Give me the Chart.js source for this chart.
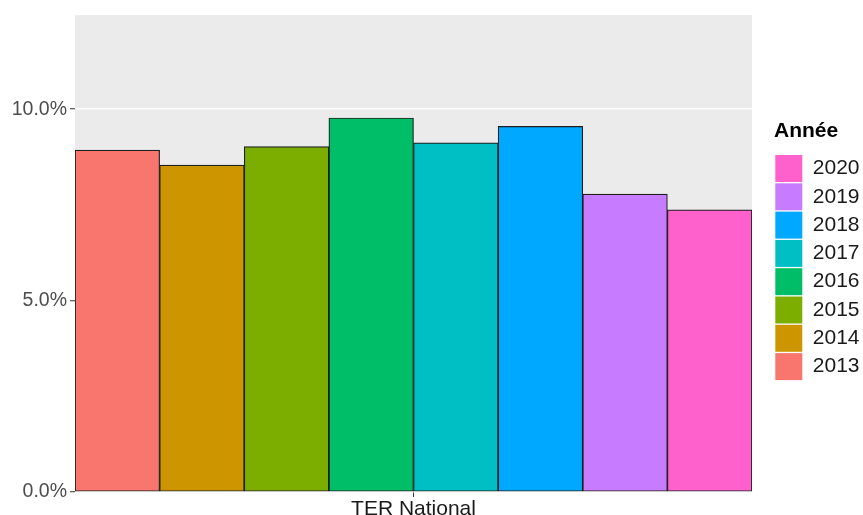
<!DOCTYPE html>
<html>
<head>
<meta charset="utf-8">
<script src="https://cdn.jsdelivr.net/npm/chart.js@4"></script>
<style>
  html, body { margin: 0; padding: 0; background: #fff; }
  canvas { display: block; }
</style>
</head>
<body>
<canvas id="chart" width="863" height="515"></canvas>
<script>
// data (percent)
const categories = ['TER National'];
const years = ['2013', '2014', '2015', '2016', '2017', '2018', '2019', '2020'];
const values = [8.93, 8.54, 9.02, 9.77, 9.12, 9.55, 7.78, 7.37];
const yTicks = [0, 5, 10];

// ggplot hue palette
const colors = ['#F8766D', '#CD9600', '#7CAE00', '#00BE67', '#00BFC4', '#00A9FF', '#C77CFF', '#FF61CC'];

const FONT = "'Liberation Sans', Arial, sans-serif";

// grey panel behind the plot
const panelBg = {
  id: 'panelBg',
  beforeDraw(chart) {
    const { ctx, chartArea: a } = chart;
    ctx.save();
    ctx.fillStyle = '#EBEBEB';
    ctx.fillRect(a.left, a.top, a.right - a.left, a.bottom - a.top);
    ctx.restore();
  }
};

const ctx = document.getElementById('chart').getContext('2d');

new Chart(ctx, {
  type: 'bar',
  data: {
    labels: categories,
    datasets: years.map((yr, i) => ({
      label: yr,
      data: [values[i]],
      backgroundColor: colors[i],
      borderColor: '#1F1F1F',
      borderWidth: 1.2,
      borderSkipped: false,
      barPercentage: 1,
      categoryPercentage: 1,
    }))
  },
  options: {
    responsive: false,
    animation: false,
    layout: { padding: { top: 15, right: 2, bottom: 0, left: 0 } },
    plugins: {
      tooltip: { enabled: false },
      legend: {
        position: 'right',
        align: 'start',
        reverse: true,
        maxWidth: 87,
        title: {
          display: true,
          text: 'Année',
          color: '#000',
          position: 'start',
          font: { family: FONT, size: 21, weight: 'bold' },
          padding: { top: 105.5, bottom: 8 }
        },
        labels: {
          boxWidth: 27,
          boxHeight: 27,
          padding: 1.3,
          color: '#1A1A1A',
          font: { family: FONT, size: 21 },
          generateLabels(chart) {
            const items = Chart.defaults.plugins.legend.labels.generateLabels(chart);
            return items.map(it => Object.assign(it, { lineWidth: 0, strokeStyle: 'rgba(0,0,0,0)' }));
          }
        }
      }
    },
    scales: {
      x: {
        offset: true,
        grid: { display: true, drawOnChartArea: false, offset: false, tickLength: 5, tickColor: '#333', tickWidth: 1 },
        border: { display: false },
        ticks: { color: '#1A1A1A', padding: 0, font: { family: FONT, size: 21 } },
        afterFit(s) { s.height = 23; }
      },
      y: {
        min: 0,
        max: 12.46,
        grid: { color: '#FFFFFF', lineWidth: 1.5, tickLength: 5, tickColor: '#333', tickWidth: 1 },
        border: { display: false },
        ticks: {
          stepSize: 5,
          color: '#4D4D4D',
          padding: 3,
          font: { family: FONT, size: 19.5 },
          callback: v => v.toFixed(1) + '%'
        },
        afterBuildTicks(s) { s.ticks = s.ticks.filter(t => yTicks.includes(t.value)); },
        afterFit(s) { s.width = 75; }
      },
      gap: {
        position: 'right',
        display: true,
        grid: { display: false },
        border: { display: false },
        ticks: { display: false },
        afterFit(s) { s.width = 22; }
      }
    }
  },
  plugins: [panelBg]
});
</script>
</body>
</html>
